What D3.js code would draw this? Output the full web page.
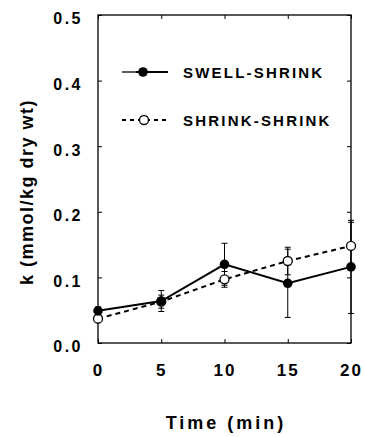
<!DOCTYPE html>
<html><head><meta charset="utf-8">
<script src="https://cdn.jsdelivr.net/npm/d3@7"></script>
<style>body{margin:0;background:#fff}svg{display:block}text{font-family:"Liberation Sans",Arial,sans-serif;fill:#000}</style>
</head><body><svg id="c" width="365" height="437"></svg>
<script>
const times = [0, 5, 10, 15, 20];
const swellShrink = [0.049, 0.064, 0.120, 0.091, 0.116];
const swellShrinkErr = [0.006, 0.016, 0.032, 0.052, 0.071];
const shrinkShrink = [0.037, 0.063, 0.097, 0.125, 0.148];
const shrinkShrinkErr = [0.004, 0.010, 0.012, 0.021, 0.036];
const yTicks = [0.0, 0.1, 0.2, 0.3, 0.4, 0.5];
const xTicks = [0, 5, 10, 15, 20];
const seriesNames = ["SWELL-SHRINK", "SHRINK-SHRINK"];

const svg = d3.select("#c");
const x = d3.scaleLinear().domain([0, 20]).range([98, 351]);
const y = d3.scaleLinear().domain([0, 0.5]).range([343, 15]);

svg.append("rect").attr("x",98).attr("y",15).attr("width",253).attr("height",328)
  .attr("fill","none").attr("stroke","#000").attr("stroke-width",1.3);

const yAx = svg.append("g").attr("transform","translate(98,0)")
  .call(d3.axisLeft(y).tickValues(yTicks).tickFormat(d3.format(".1f")).tickSize(-4).tickPadding(15));
yAx.select(".domain").remove();
yAx.selectAll("text").attr("font-size",16).attr("font-weight","bold").attr("letter-spacing",2.5)
  .attr("font-family","Liberation Sans, Arial, sans-serif").attr("dy","0.55em");
const yAxR = svg.append("g").attr("transform","translate(351,0)")
  .call(d3.axisRight(y).tickValues(yTicks).tickFormat("").tickSize(-4));
yAxR.select(".domain").remove();

const xAx = svg.append("g").attr("transform","translate(0,343)")
  .call(d3.axisBottom(x).tickValues(xTicks).tickSize(-4).tickPadding(21));
xAx.select(".domain").remove();
xAx.selectAll("text").attr("font-size",17).attr("font-weight","bold").attr("letter-spacing",2)
  .attr("font-family","Liberation Sans, Arial, sans-serif");
const xAxT = svg.append("g").attr("transform","translate(0,15)")
  .call(d3.axisTop(x).tickValues(xTicks).tickFormat("").tickSize(-4));
xAxT.select(".domain").remove();
svg.selectAll(".tick line").attr("stroke","#000").attr("stroke-width",1);

svg.append("text").attr("x",226).attr("y",429).attr("text-anchor","middle")
  .attr("font-size",18).attr("font-weight","bold").attr("letter-spacing",3).text("Time (min)");
svg.append("text").attr("transform","translate(33,192) rotate(-90)").attr("text-anchor","middle")
  .attr("font-size",18).attr("font-weight","bold").attr("letter-spacing",1.5).text("k (mmol/kg dry wt)");

function drawErr(vals, errs){
  const g = svg.append("g").attr("stroke","#000").attr("stroke-width",1);
  times.forEach((t,i)=>{
    const cx = x(t), y1 = y(vals[i]+errs[i]), y2 = y(vals[i]-errs[i]);
    g.append("line").attr("x1",cx).attr("x2",cx).attr("y1",y1).attr("y2",y2);
    g.append("line").attr("x1",cx-3).attr("x2",cx+3).attr("y1",y1).attr("y2",y1);
    g.append("line").attr("x1",cx-3).attr("x2",cx+3).attr("y1",y2).attr("y2",y2);
  });
}
drawErr(swellShrink, swellShrinkErr);
drawErr(shrinkShrink, shrinkShrinkErr);

const line = d3.line().x((d,i)=>x(times[i])).y(d=>y(d));
svg.append("path").datum(shrinkShrink).attr("d",line).attr("fill","none")
  .attr("stroke","#000").attr("stroke-width",2).attr("stroke-dasharray","5,4");
svg.append("path").datum(swellShrink).attr("d",line).attr("fill","none")
  .attr("stroke","#000").attr("stroke-width",2);

svg.append("g").selectAll("circle").data(shrinkShrink).join("circle")
  .attr("cx",(d,i)=>x(times[i])).attr("cy",d=>y(d)).attr("r",4.5)
  .attr("fill","#fff").attr("stroke","#000").attr("stroke-width",1.3);
svg.append("g").selectAll("circle").data(swellShrink).join("circle")
  .attr("cx",(d,i)=>x(times[i])).attr("cy",d=>y(d)).attr("r",4.8).attr("fill","#000");

// legend
const lg = svg.append("g");
lg.append("line").attr("x1",122).attr("x2",136).attr("y1",72).attr("y2",72).attr("stroke","#000").attr("stroke-width",1.3);
lg.append("line").attr("x1",136).attr("x2",168).attr("y1",72).attr("y2",72).attr("stroke","#000").attr("stroke-width",2);
lg.append("circle").attr("cx",143).attr("cy",72).attr("r",4.8).attr("fill","#000");
lg.append("text").attr("x",183).attr("y",78).attr("font-size",15).attr("font-weight","bold").attr("letter-spacing",2.2).text(seriesNames[0]);
lg.append("line").attr("x1",122).attr("x2",168).attr("y1",120).attr("y2",120).attr("stroke","#000").attr("stroke-width",2).attr("stroke-dasharray","4,4");
lg.append("circle").attr("cx",144).attr("cy",120).attr("r",4.5).attr("fill","#fff").attr("stroke","#000").attr("stroke-width",1.3);
lg.append("text").attr("x",183).attr("y",126).attr("font-size",15).attr("font-weight","bold").attr("letter-spacing",2.2).text(seriesNames[1]);
</script></body></html>
